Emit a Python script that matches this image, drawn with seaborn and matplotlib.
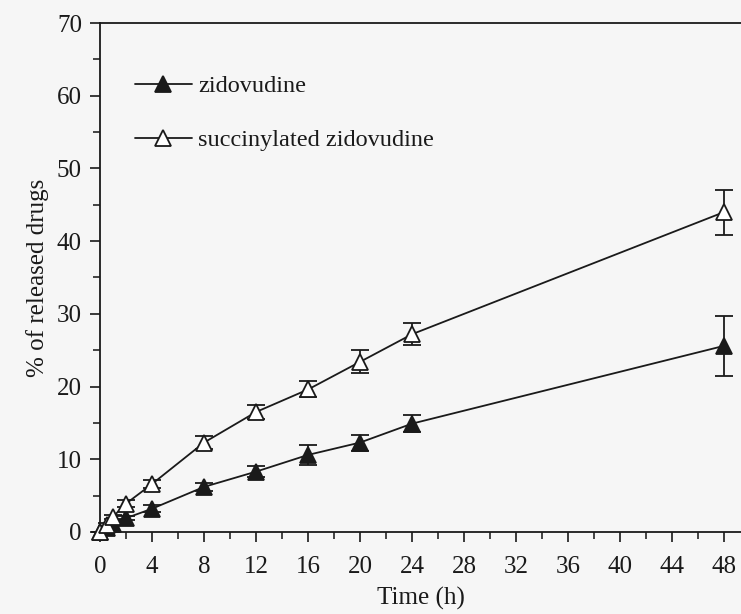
import numpy as np
import pandas as pd
import matplotlib
matplotlib.use("Agg")
import matplotlib.pyplot as plt
import seaborn as sns
from matplotlib.ticker import MultipleLocator

# Release time points (h)
time_h = [0, 0.5, 1, 2, 4, 8, 12, 16, 20, 24, 48]

# Cumulative release (%) and standard deviations
zidovudine = [0, 0.5, 1.1, 1.9, 3.2, 6.2, 8.3, 10.6, 12.3, 14.9, 25.6]
zidovudine_sd = [0, 0.1, 0.2, 0.3, 0.5, 0.6, 0.8, 1.4, 1.1, 1.2, 4.1]
succinylated = [0, 1.0, 2.1, 3.9, 6.6, 12.3, 16.5, 19.6, 23.4, 27.2, 44.0]
succinylated_sd = [0, 0.2, 0.3, 0.5, 0.6, 0.9, 1.0, 1.1, 1.6, 1.5, 3.1]

series_names = ["zidovudine", "succinylated zidovudine"]

df = pd.DataFrame({
    "time": time_h * 2,
    "release": zidovudine + succinylated,
    "sd": zidovudine_sd + succinylated_sd,
    "drug": [series_names[0]] * len(time_h) + [series_names[1]] * len(time_h),
})

sns.set_theme(style="ticks")
plt.rcParams["font.family"] = ["Liberation Serif", "DejaVu Serif"]
plt.rcParams["axes.linewidth"] = 1.3

ink = "#1a1a1a"
paper = "#f6f6f6"

fig = plt.figure(figsize=(7.41, 6.14), dpi=100, facecolor=paper)
ax = fig.add_axes([0.135, 0.1336, 0.865, 0.8289], facecolor=paper)

fills = {series_names[0]: ink, series_names[1]: "white"}
for name in series_names:
    sub = df[df["drug"] == name]
    ax.errorbar(sub["time"], sub["release"], yerr=sub["sd"], fmt="none",
                ecolor=ink, elinewidth=1.3, capsize=6.5, capthick=1.3,
                zorder=2, clip_on=False)
    sns.lineplot(data=sub, x="time", y="release", ax=ax, color=ink,
                 linewidth=1.3, marker="^", markersize=12,
                 markerfacecolor=fills[name], markeredgecolor=ink,
                 markeredgewidth=1.3, label=name, zorder=3, clip_on=False)

ax.set_xlim(0, 49.3)
ax.set_ylim(0, 70)
ax.xaxis.set_major_locator(MultipleLocator(4))
ax.xaxis.set_minor_locator(MultipleLocator(2))
ax.yaxis.set_major_locator(MultipleLocator(10))
ax.yaxis.set_minor_locator(MultipleLocator(5))
ax.tick_params(axis="both", which="major", direction="out", length=7,
               width=1.2, labelsize=18, colors=ink, pad=10)
ax.tick_params(axis="both", which="minor", direction="out", length=5,
               width=1.2)
ax.tick_params(axis="y", pad=6)

for side in ("left", "bottom", "top"):
    ax.spines[side].set_color(ink)
ax.spines["right"].set_visible(False)

ax.set_xlabel("Time (h)", fontsize=18, color=ink, labelpad=7)
ax.set_ylabel("% of released drugs", fontsize=18, color=ink, labelpad=6)

leg = ax.legend(loc="upper left", bbox_to_anchor=(0.054, 0.897),
                frameon=False, fontsize=17.5, handlelength=2.35,
                handletextpad=0.25, labelspacing=1.3, borderpad=0,
                borderaxespad=0)
for txt in leg.get_texts():
    txt.set_color(ink)

fig.savefig("out.png", dpi=100, facecolor=paper)
